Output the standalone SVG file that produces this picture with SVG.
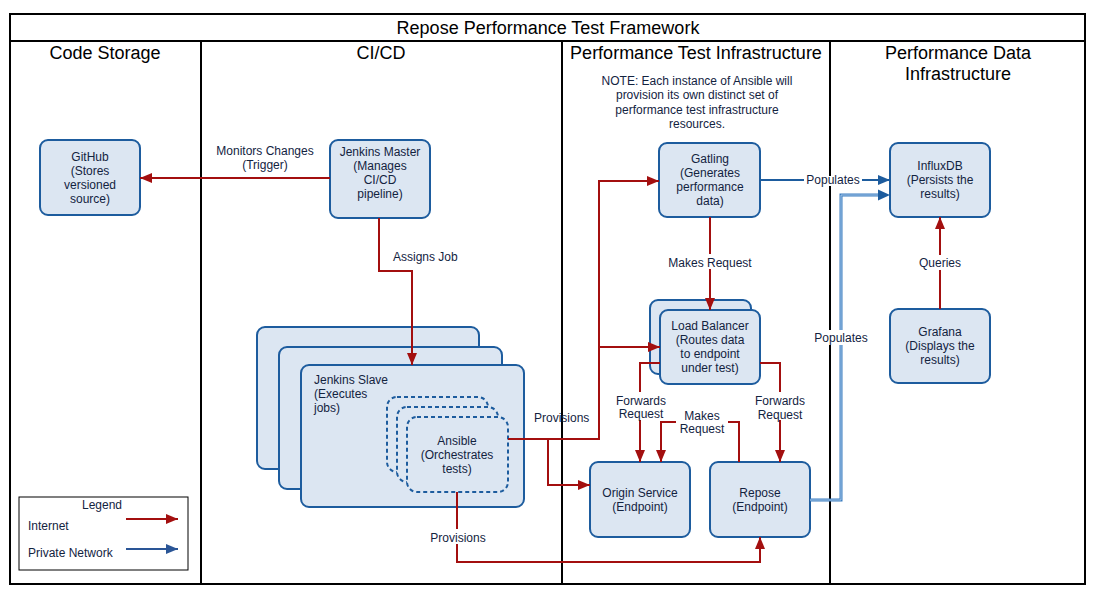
<svg xmlns="http://www.w3.org/2000/svg" width="1106" height="604" viewBox="0 0 1106 604">
<defs>
<style>
text{font-family:"Liberation Sans",Arial,sans-serif;fill:#13233f;}
.hdr{font-size:18px;fill:#000;text-anchor:middle;}
.t{font-size:12px;text-anchor:middle;}
.tl{font-size:12px;}
.node{fill:#dce6f2;stroke:#1d5c9e;stroke-width:2;}
.dash{fill:#dce6f2;stroke:#1d5c9e;stroke-width:2;stroke-dasharray:4 3;}
.red{fill:none;stroke:#a30f0f;stroke-width:2;}
.blue{fill:none;stroke:#1d5c9e;stroke-width:2;}
.lb1{fill:none;stroke:#3a7cbf;stroke-width:3;}
.lb2{fill:none;stroke:#a9c9ea;stroke-width:1;}
.frame{fill:none;stroke:#000;stroke-width:2;}
.bg{fill:#fff;}
</style>
<marker id="ar" viewBox="0 0 12 10" refX="12" refY="5" markerWidth="12" markerHeight="10" markerUnits="userSpaceOnUse" orient="auto"><path d="M0,0 L12,5 L0,10 z" fill="#a30f0f"/></marker>
<marker id="ab" viewBox="0 0 12 10" refX="12" refY="5" markerWidth="12" markerHeight="10" markerUnits="userSpaceOnUse" orient="auto"><path d="M0,0 L12,5 L0,10 z" fill="#1d5c9e"/></marker>
<marker id="ab2" viewBox="0 0 12 10" refX="12" refY="5" markerWidth="12" markerHeight="10" markerUnits="userSpaceOnUse" orient="auto"><path d="M0,0 L12,5 L0,10 z" fill="#2a5596"/></marker>
</defs>
<rect width="1106" height="604" fill="#fff"/>
<g id="frame">
<rect class="frame" x="10" y="14" width="1075" height="570"/>
<line class="frame" x1="10" y1="41" x2="1085" y2="41"/>
<line class="frame" x1="201" y1="41" x2="201" y2="584"/>
<line class="frame" x1="562" y1="41" x2="562" y2="584"/>
<line class="frame" x1="830" y1="41" x2="830" y2="584"/>
<text class="hdr" x="548" y="34">Repose Performance Test Framework</text>
<text class="hdr" x="105" y="59">Code Storage</text>
<text class="hdr" x="381" y="59">CI/CD</text>
<text class="hdr" x="696" y="59">Performance Test Infrastructure</text>
<text class="hdr" x="958" y="59">Performance Data</text>
<text class="hdr" x="958" y="80">Infrastructure</text>
<text class="t" x="697" y="85">NOTE: Each instance of Ansible will</text>
<text class="t" x="697" y="99">provision its own distinct set of</text>
<text class="t" x="697" y="114">performance test infrastructure</text>
<text class="t" x="697" y="128">resources.</text>
</g>
<g id="github">
<rect class="node" x="40" y="140" width="100" height="75" rx="8"/>
<text class="t" x="90" y="161">GitHub</text>
<text class="t" x="90" y="175">(Stores</text>
<text class="t" x="90" y="189">versioned</text>
<text class="t" x="90" y="203">source)</text>
</g>
<g id="jenkins-master">
<rect class="node" x="330" y="140" width="100" height="78" rx="8"/>
<text class="t" x="380" y="156">Jenkins Master</text>
<text class="t" x="380" y="170">(Manages</text>
<text class="t" x="380" y="184">CI/CD</text>
<text class="t" x="380" y="198">pipeline)</text>
</g>
<g id="jenkins-slave">
<rect class="node" x="257" y="327" width="222" height="142" rx="8"/>
<rect class="node" x="279" y="347" width="223" height="142" rx="8"/>
<rect class="node" x="301" y="365" width="223" height="142" rx="8"/>
<text class="tl" x="314" y="384">Jenkins Slave</text>
<text class="tl" x="314" y="398">(Executes</text>
<text class="tl" x="314" y="412">jobs)</text>
</g>
<g id="ansible">
<rect class="dash" x="387" y="397" width="101" height="75" rx="10"/>
<rect class="dash" x="397" y="407" width="101" height="75" rx="10"/>
<rect class="dash" x="407" y="417" width="101" height="75" rx="10"/>
<text class="t" x="457" y="445">Ansible</text>
<text class="t" x="457" y="459">(Orchestrates</text>
<text class="t" x="457" y="473">tests)</text>
</g>
<g id="gatling">
<rect class="node" x="659" y="143" width="101" height="74" rx="8"/>
<text class="t" x="710" y="163">Gatling</text>
<text class="t" x="710" y="177">(Generates</text>
<text class="t" x="710" y="191">performance</text>
<text class="t" x="710" y="205">data)</text>
</g>
<g id="load-balancer">
<rect class="node" x="650" y="300" width="101" height="74" rx="8"/>
<rect class="node" x="660" y="310" width="100" height="74" rx="8"/>
<text class="t" x="710" y="330">Load Balancer</text>
<text class="t" x="710" y="344">(Routes data</text>
<text class="t" x="710" y="358">to endpoint</text>
<text class="t" x="710" y="372">under test)</text>
</g>
<g id="origin-service">
<rect class="node" x="590" y="462" width="100" height="75" rx="8"/>
<text class="t" x="640" y="497">Origin Service</text>
<text class="t" x="640" y="511">(Endpoint)</text>
</g>
<g id="repose">
<rect class="node" x="710" y="462" width="100" height="75" rx="8"/>
<text class="t" x="760" y="497">Repose</text>
<text class="t" x="760" y="511">(Endpoint)</text>
</g>
<g id="influxdb">
<rect class="node" x="890" y="143" width="100" height="74" rx="8"/>
<text class="t" x="940" y="170">InfluxDB</text>
<text class="t" x="940" y="184">(Persists the</text>
<text class="t" x="940" y="198">results)</text>
</g>
<g id="grafana">
<rect class="node" x="890" y="309" width="100" height="74" rx="8"/>
<text class="t" x="940" y="336">Grafana</text>
<text class="t" x="940" y="350">(Displays the</text>
<text class="t" x="940" y="364">results)</text>
</g>
<g id="connectors">
<line class="red" x1="330" y1="178" x2="140" y2="178" marker-end="url(#ar)"/>
<path class="red" d="M379,218 V271 H412 V365" marker-end="url(#ar)"/>
<path class="red" d="M508,439 H599 V181 H659" marker-end="url(#ar)"/>
<path class="red" d="M599,347 H660" marker-end="url(#ar)"/>
<path class="red" d="M548,439 V485 H590" marker-end="url(#ar)"/>
<path class="red" d="M457,492 V562 H760 V537" marker-end="url(#ar)"/>
<line class="red" x1="710" y1="217" x2="710" y2="310" marker-end="url(#ar)"/>
<path class="red" d="M660,363 H640 V462" marker-end="url(#ar)"/>
<path class="red" d="M760,363 H780 V462" marker-end="url(#ar)"/>
<path class="red" d="M739,462 V422 H661 V462" marker-end="url(#ar)"/>
<line class="red" x1="940" y1="309" x2="940" y2="217" marker-end="url(#ar)"/>
<line class="blue" x1="760" y1="180" x2="890" y2="180" marker-end="url(#ab)"/>
<path class="lb1" d="M810,500 H841 V195 H878"/>
<path class="lb2" d="M810,500 H841 V195 H878"/>
<path d="M878,189.5 L890,195 L878,200.5 z" fill="#1d5c9e"/>
<rect class="bg" x="214" y="142" width="102" height="30"/>
<text class="t" x="265" y="155">Monitors Changes</text>
<text class="t" x="265" y="169">(Trigger)</text>
<text class="tl" x="393" y="261">Assigns Job</text>
<text class="tl" x="534" y="422">Provisions</text>
<rect class="bg" x="428" y="529" width="60" height="15"/>
<text class="t" x="458" y="542">Provisions</text>
<rect class="bg" x="666" y="254" width="88" height="15"/>
<text class="t" x="710" y="267">Makes Request</text>
<rect class="bg" x="612" y="392" width="58" height="28"/>
<text class="t" x="641" y="405">Forwards</text>
<text class="t" x="641" y="418">Request</text>
<rect class="bg" x="752" y="392" width="58" height="28"/>
<text class="t" x="780" y="405">Forwards</text>
<text class="t" x="780" y="419">Request</text>
<rect class="bg" x="676" y="407" width="52" height="28"/>
<text class="t" x="702" y="420">Makes</text>
<text class="t" x="702" y="433">Request</text>
<rect class="bg" x="804" y="176" width="58" height="10"/>
<text class="t" x="833" y="184">Populates</text>
<rect class="bg" x="812" y="330" width="58" height="15"/>
<text class="t" x="841" y="342">Populates</text>
<rect class="bg" x="914" y="255" width="52" height="15"/>
<text class="t" x="940" y="267">Queries</text>
</g>
<g id="legend">
<rect x="19" y="497" width="169" height="73" fill="#fff" stroke="#000" stroke-width="1"/>
<text class="t" x="102" y="509">Legend</text>
<text class="tl" x="28" y="530">Internet</text>
<text class="tl" x="28" y="557">Private Network</text>
<line class="red" x1="126" y1="519" x2="178" y2="519" marker-end="url(#ar)"/>
<line x1="126" y1="549" x2="178" y2="549" stroke="#2a5596" stroke-width="2" marker-end="url(#ab2)"/>
</g>
</svg>
